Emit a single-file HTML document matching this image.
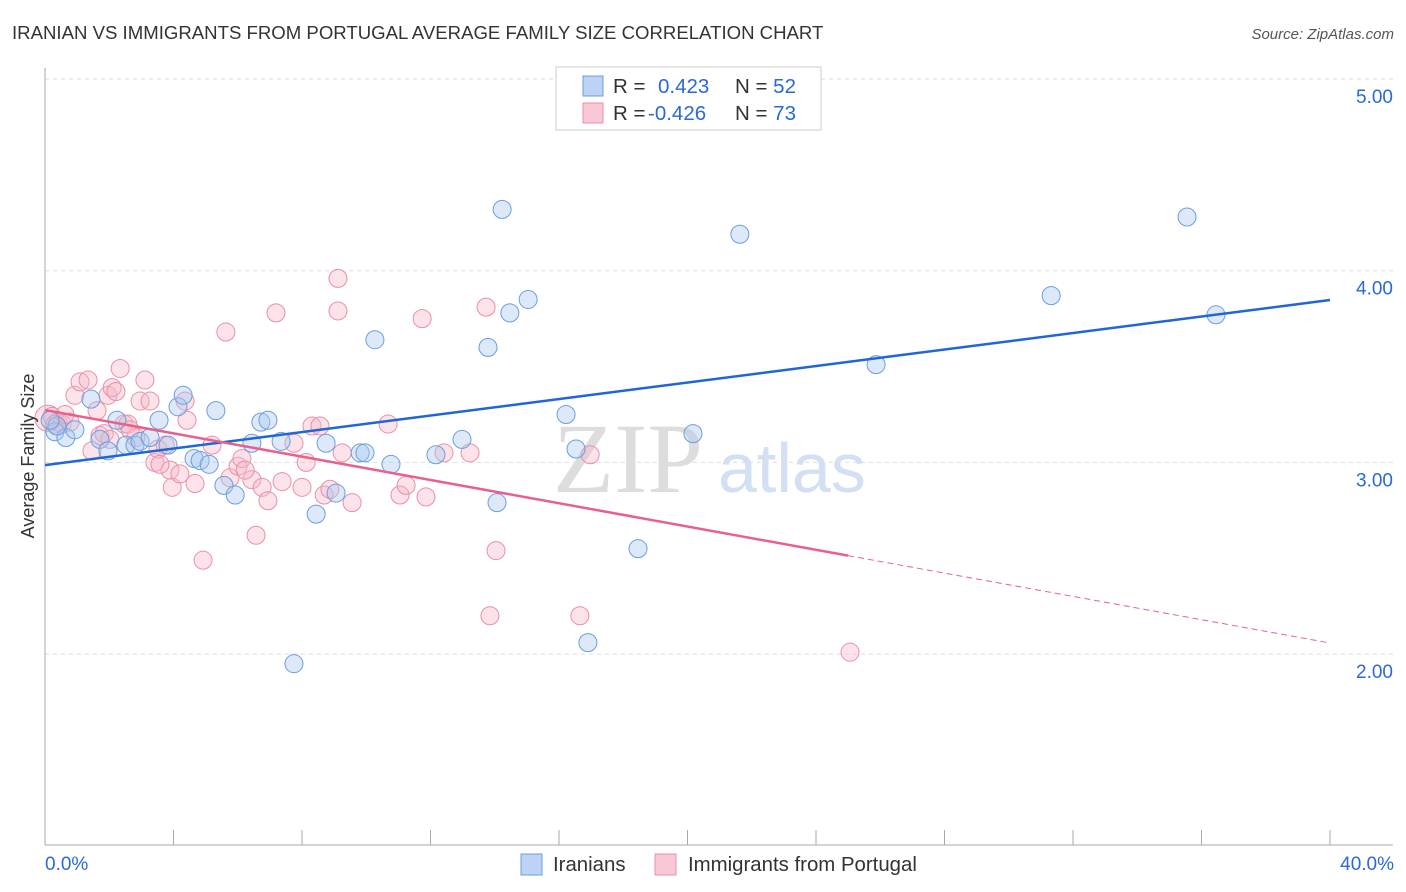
<!DOCTYPE html>
<html><head><meta charset="utf-8"><style>
body{margin:0;background:#fff;font-family:"Liberation Sans",sans-serif;}
#wrap{position:relative;width:1406px;height:892px;overflow:hidden;}
</style></head><body>
<div id="wrap">
<svg id="chart" width="1406" height="892" xmlns="http://www.w3.org/2000/svg">
<text x="12" y="39" font-size="18.6" fill="#333">IRANIAN VS IMMIGRANTS FROM PORTUGAL AVERAGE FAMILY SIZE CORRELATION CHART</text>
<text x="1394" y="39" font-size="15" fill="#555" text-anchor="end" font-style="italic">Source: ZipAtlas.com</text>
<text x="553" y="492" font-size="100" fill="#ddd" font-family="Liberation Serif,serif">ZIP</text>
<text x="718" y="492" font-size="70" fill="#d3e0f3">atlas</text>
<g id="grid"></g>
<g id="pts"></g>
<g id="lines"></g>
<text transform="translate(34,456) rotate(-90)" font-size="18" fill="#333" text-anchor="middle">Average Family Size</text>
<g>
<rect x="556" y="67" width="265" height="63" fill="#fff" stroke="#ccc"/>
<rect x="583" y="76" width="20" height="20" fill="#bcd3f5" stroke="#6a9ee0"/>
<rect x="583" y="103" width="20" height="20" fill="#f8c6d4" stroke="#e890a8"/>
<text x="613" y="93" font-size="20.5" fill="#333">R = <tspan fill="#2a6ad4" x="658">0.423</tspan><tspan x="735">N = </tspan><tspan fill="#2a6ad4">52</tspan></text>
<text x="613" y="120" font-size="20.5" fill="#333">R = <tspan fill="#2a6ad4" x="648">-0.426</tspan><tspan x="735">N = </tspan><tspan fill="#2a6ad4">73</tspan></text>
</g>
<g>
<rect x="521" y="854" width="21" height="21" fill="#bcd3f5" stroke="#6a9ee0"/>
<text x="553" y="871" font-size="20.4" fill="#333">Iranians</text>
<rect x="655" y="854" width="21" height="21" fill="#f8c6d4" stroke="#e890a8"/>
<text x="688" y="871" font-size="20.4" fill="#333">Immigrants from Portugal</text>
</g>
<text x="45" y="870" font-size="19" fill="#2a6ad4">0.0%</text>
<text x="1394" y="870" font-size="19" fill="#2a6ad4" text-anchor="end">40.0%</text>
</svg>
</div>
<script>
const yTicks=[2,3,4,5];
const yTickLabels=["2.00","3.00","4.00","5.00"];
const blueX=[0.31,0.65,0.37,0.16,0.93,1.43,1.71,1.96,2.24,2.52,2.8,2.96,3.27,3.55,3.83,4.14,4.3,4.64,4.83,5.11,5.32,5.57,5.92,6.44,6.72,6.94,7.35,7.75,8.44,8.75,9.06,9.81,9.96,10.27,10.77,12.17,12.98,13.79,14.07,14.23,14.47,15.04,16.22,16.53,16.9,18.46,20.17,21.63,25.87,31.32,35.55,36.45];
const blueY=[3.16,3.13,3.19,3.22,3.17,3.33,3.12,3.06,3.22,3.09,3.09,3.11,3.13,3.22,3.09,3.29,3.35,3.02,3.01,2.99,3.27,2.88,2.83,3.1,3.21,3.22,3.11,1.95,2.73,3.1,2.84,3.05,3.05,3.64,2.99,3.04,3.12,3.6,2.79,4.32,3.78,3.85,3.25,3.07,2.06,2.55,3.15,4.19,3.51,3.87,4.28,3.77];
const pinkX=[0.09,0.22,0.4,0.53,0.78,0.93,1.09,1.34,1.46,1.62,1.71,1.84,1.96,2.09,2.21,2.34,2.46,2.58,2.83,2.96,3.11,3.27,3.42,3.52,3.74,3.89,3.96,4.2,4.42,4.36,4.67,4.92,5.2,5.63,5.76,6.01,6.13,6.44,6.57,6.76,6.94,7.19,7.38,7.75,8.0,8.13,8.31,8.56,8.69,8.87,9.12,9.25,9.56,9.12,10.68,11.05,11.24,11.74,11.86,12.42,13.23,13.73,13.85,14.04,16.65,16.97,25.06,0.31,0.62,2.02,2.65,3.58,6.23];
const pinkY=[3.23,3.24,3.21,3.2,3.21,3.35,3.42,3.43,3.06,3.27,3.14,3.15,3.35,3.39,3.37,3.49,3.2,3.2,3.13,3.32,3.43,3.32,3.0,3.07,3.09,2.96,2.87,2.94,3.22,3.32,2.89,2.49,3.09,3.68,2.92,2.98,3.02,2.91,2.62,2.87,2.8,3.78,2.9,3.1,2.87,3.0,3.19,3.19,2.83,2.86,3.79,3.05,2.79,3.96,3.2,2.83,2.88,3.75,2.82,3.05,3.05,3.81,2.2,2.54,2.2,3.04,2.01,3.2,3.25,3.12,3.17,2.99,2.96];
const blueTrend=[2.986,3.847];
const pinkTrend=[3.273,2.058];
const pinkSolidEnd=25;
const NS="http://www.w3.org/2000/svg";
const X0=45,X1=1330,XR=40;
function sx(v){return X0+(X1-X0)*v/XR;}
function sy(v){return 79+(5-v)*191.7;}
function mk(tag,attrs,parent){const e=document.createElementNS(NS,tag);for(const k in attrs)e.setAttribute(k,attrs[k]);parent.appendChild(e);return e;}
const grid=document.getElementById('grid');
yTicks.forEach((t,i)=>{
  const l=mk('line',{x1:45,x2:1393,y1:sy(t),y2:sy(t),stroke:'#ddd','stroke-dasharray':'4,4'},grid);
  
  
  const tx=mk('text',{x:1393,y:sy(t)+24,'font-size':19,fill:'#2a6ad4','text-anchor':'end'},grid);
  tx.textContent=yTickLabels[i];
  
  
});
const ax=mk('line',{x1:45,x2:45,y1:68,y2:845,stroke:'#aaa'},grid);


const bx=mk('line',{x1:45,x2:1393,y1:845,y2:845,stroke:'#aaa'},grid);


for(let i=0;i<=10;i++){
  const t=mk('line',{x1:sx(i*4),x2:sx(i*4),y1:830,y2:845,stroke:'#aaa'},grid);
  
  
}
const pts=document.getElementById('pts');
pinkX.forEach((v,i)=>{
  const c=mk('circle',{cx:sx(v),cy:sy(pinkY[i]),r:i==0?13:9,fill:'#f5b8c8','fill-opacity':0.4,stroke:'#e890a8','stroke-width':1},pts);
  
  
});
blueX.forEach((v,i)=>{
  const c=mk('circle',{cx:sx(v),cy:sy(blueY[i]),r:9,fill:'#a9c8f0','fill-opacity':0.4,stroke:'#6a9ee0','stroke-width':1},pts);
  
  
});
const lines=document.getElementById('lines');
const bl=mk('line',{x1:sx(0),y1:sy(blueTrend[0]),x2:sx(40),y2:sy(blueTrend[1]),stroke:'#1f66d6','stroke-width':2.5},lines);


const pm=pinkTrend[0]+(pinkTrend[1]-pinkTrend[0])*pinkSolidEnd/40;
const pl=mk('line',{x1:sx(0),y1:sy(pinkTrend[0]),x2:sx(pinkSolidEnd),y2:sy(pm),stroke:'#e8608e','stroke-width':2.5},lines);


const pd=mk('line',{x1:sx(pinkSolidEnd),y1:sy(pm),x2:sx(40),y2:sy(pinkTrend[1]),stroke:'#e8608e','stroke-width':1,'stroke-dasharray':'6,4'},lines);


</script>
</body></html>
